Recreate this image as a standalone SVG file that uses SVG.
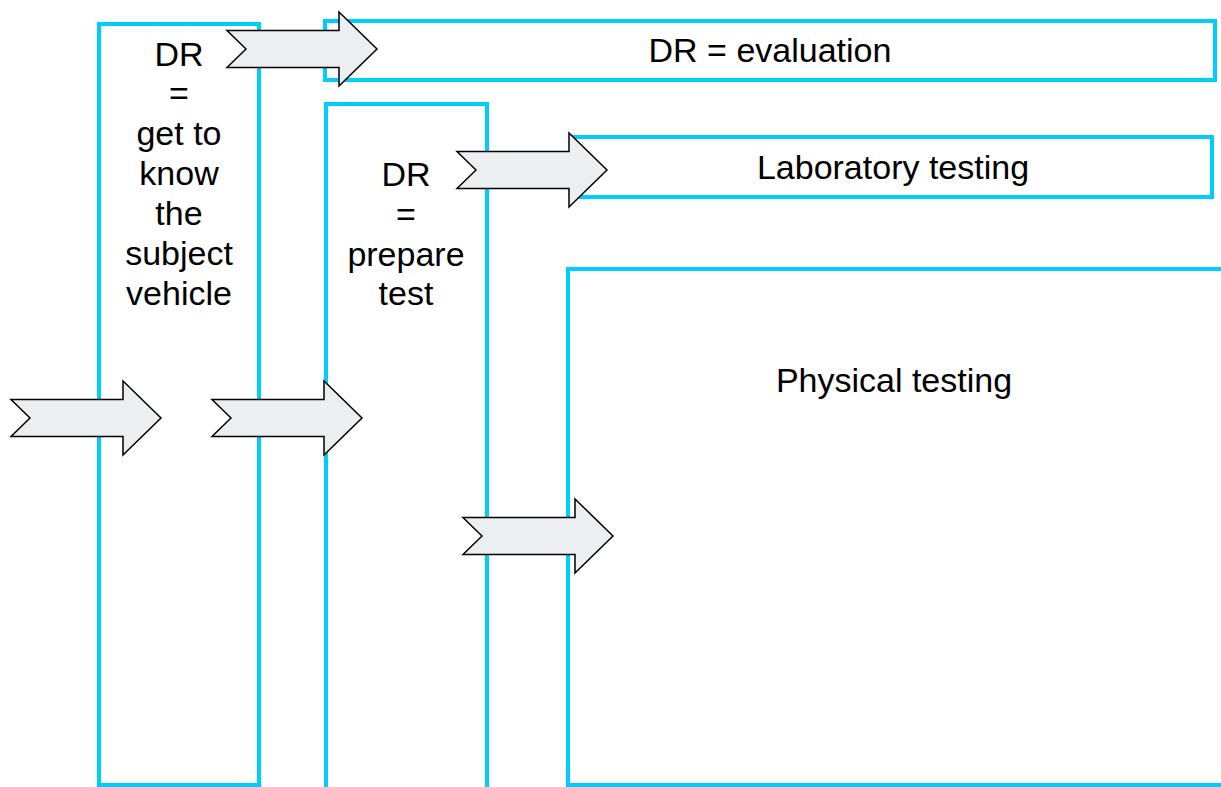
<svg xmlns="http://www.w3.org/2000/svg" width="1221" height="787" viewBox="0 0 1221 787">
  <defs>
    <style>
      .box { fill: #ffffff; stroke: #00CCFF; stroke-width: 4; }
      .lbl { font-family: "Liberation Sans", Arial, sans-serif; font-size: 34px; fill: #000000; text-anchor: middle; }
      .arrow { fill: #ECEFF2; stroke: #000000; stroke-width: 1.5; stroke-linejoin: miter; }
    </style>
    <!-- notched block arrow, 150 wide, origin at tail, centred vertically -->
    <path id="blockArrow" class="arrow" d="M0,-18.5 L112,-18.5 L112,-37 L150,0 L112,37 L112,18.5 L0,18.5 L19,0 Z"/>
  </defs>

  <rect width="1221" height="787" fill="#ffffff"/>

  <g id="node-get-to-know">
    <rect class="box" x="99" y="24" width="160" height="761"/>
    <text class="lbl" x="179" y="66">DR</text>
    <text class="lbl" x="179" y="105">=</text>
    <text class="lbl" x="179" y="145">get to</text>
    <text class="lbl" x="179" y="185">know</text>
    <text class="lbl" x="179" y="225">the</text>
    <text class="lbl" x="179" y="265">subject</text>
    <text class="lbl" x="179" y="305">vehicle</text>
  </g>

  <g id="node-evaluation">
    <rect class="box" x="325" y="21" width="890" height="59"/>
    <text class="lbl" x="770" y="62">DR = evaluation</text>
  </g>

  <g id="node-prepare-test">
    <rect class="box" x="326" y="104" width="161" height="700"/>
    <text class="lbl" x="406" y="186">DR</text>
    <text class="lbl" x="406" y="226">=</text>
    <text class="lbl" x="406" y="266">prepare</text>
    <text class="lbl" x="406" y="305">test</text>
  </g>

  <g id="node-laboratory">
    <rect class="box" x="574" y="137" width="638" height="60"/>
    <text class="lbl" x="893" y="179">Laboratory testing</text>
  </g>

  <g id="node-physical">
    <rect class="box" x="568" y="269" width="660" height="516"/>
    <text class="lbl" x="894" y="392">Physical testing</text>
  </g>

  <g id="connectors">
    <use href="#blockArrow" x="227" y="49"/>
    <use href="#blockArrow" x="11" y="418"/>
    <use href="#blockArrow" x="212" y="418"/>
    <use href="#blockArrow" x="457" y="170"/>
    <use href="#blockArrow" x="463" y="536"/>
  </g>
</svg>
